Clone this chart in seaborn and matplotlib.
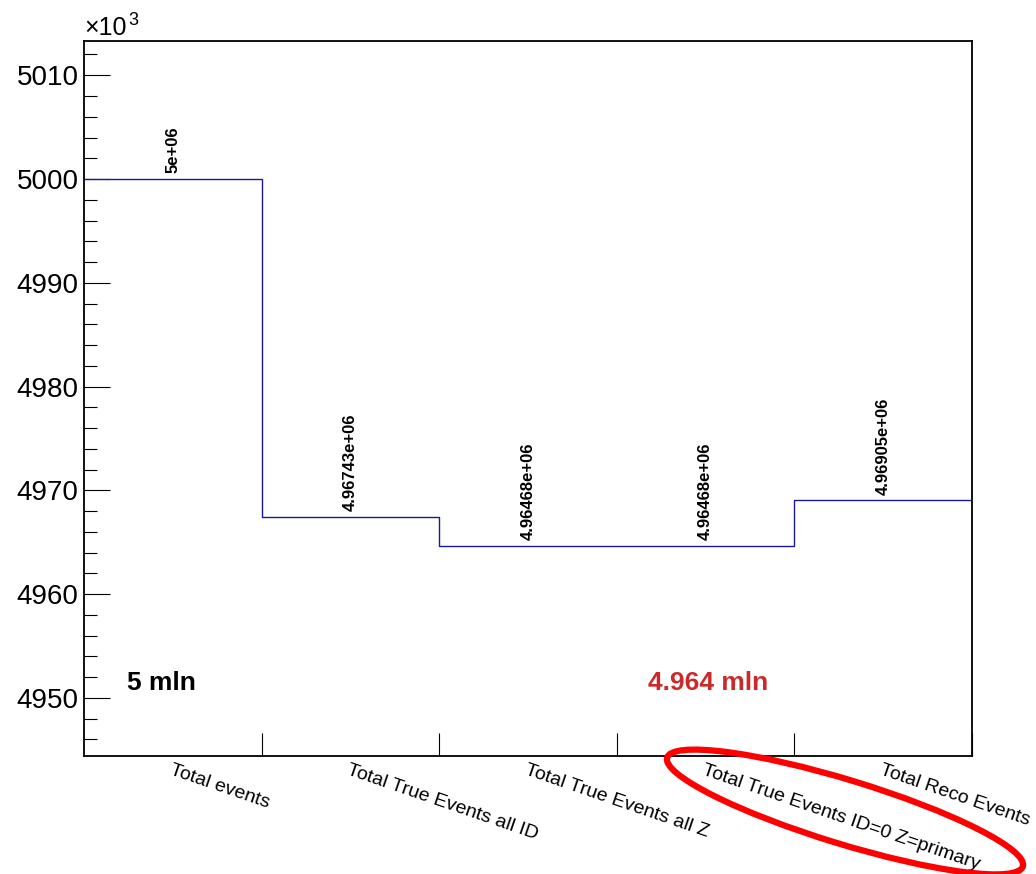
import numpy as np
import pandas as pd
import matplotlib
matplotlib.use("Agg")
import matplotlib.pyplot as plt
from matplotlib.patches import Ellipse
from matplotlib.ticker import MultipleLocator, FixedLocator
from matplotlib.transforms import IdentityTransform
import seaborn as sns

# ---- data ----
categories = ["Total events", "Total True Events all ID", "Total True Events all Z",
              "Total True Events ID=0 Z=primary", "Total Reco Events"]
counts = [5.0e6, 4.96743e6, 4.96468e6, 4.96468e6, 4.96905e6]
count_labels = ["5e+06", "4.96743e+06", "4.96468e+06", "4.96468e+06", "4.96905e+06"]
note_left = "5 mln"
note_right = "4.964 mln"

sns.set_theme(style="white")
plt.rcParams["font.family"] = ["Liberation Sans", "DejaVu Sans"]
plt.rcParams["text.color"] = "black"
plt.rcParams["axes.labelcolor"] = "black"
plt.rcParams["xtick.color"] = "black"
plt.rcParams["ytick.color"] = "black"

W, H, DPI = 1036, 874, 100
fig = plt.figure(figsize=(W / DPI, H / DPI), dpi=DPI)
ax = fig.add_axes([84 / W, 1 - 756 / H, (972 - 84) / W, (756 - 41) / H])

n = len(categories)
df = pd.DataFrame({"bin": np.arange(n) + 0.5,
                   "k": np.array(counts) / 1000.0})
sns.histplot(data=df, x="bin", weights="k", binwidth=1, binrange=(0, n),
             element="step", fill=False, color="#1a1a99", linewidth=1.0, ax=ax)

ax.set_xlim(0, n)
ax.set_ylim(4944.4, 5013.3)
ax.set_xlabel("")
ax.set_ylabel("")

for sp in ax.spines.values():
    sp.set_color("black")
    sp.set_linewidth(1.3)
    sp.set_visible(True)

# y axis ticks
ax.yaxis.set_major_locator(MultipleLocator(10))
ax.yaxis.set_minor_locator(MultipleLocator(2))
ax.tick_params(axis="y", which="major", direction="in", length=19, width=0.8,
               color="black", labelcolor="black", labelsize=20, pad=4,
               left=True, right=False)
ax.tick_params(axis="y", which="minor", direction="in", length=9.5, width=0.8,
               color="black", left=True, right=False)

# x axis: labels at bin centers, ticks at bin edges
centers = np.arange(n) + 0.5
ax.set_xticks(centers)
ax.set_xticklabels(categories, rotation=-19, ha="left", va="top",
                   rotation_mode="anchor", fontsize=14, color="black")
ax.tick_params(axis="x", which="major", length=0, pad=4, bottom=True, top=False,
               labelcolor="black")
ax.xaxis.set_minor_locator(FixedLocator(np.arange(1, n + 1)))
ax.tick_params(axis="x", which="minor", direction="in", length=16.5, width=0.8,
               color="black", bottom=True, top=False)

# value labels
for xc, v, lab in zip(centers, counts, count_labels):
    ax.annotate(lab, xy=(xc, v / 1000.0), xytext=(0, 4), textcoords="offset points",
                rotation=90, ha="center", va="bottom", fontsize=12,
                fontweight="bold", color="black")

# multiplier
ax.text(0.0, 1.0084, "\u00d710", transform=ax.transAxes,
        fontsize=18, ha="left", va="baseline", color="black")
ax.text(0.0495, 1.0224, "3", transform=ax.transAxes, fontsize=13,
        ha="left", va="baseline", color="black")

# notes
ax.text(0.242, 4950.8, note_left, fontsize=19, fontweight="bold",
        color="black", ha="left", va="baseline")
ax.text(3.176, 4950.8, note_right, fontsize=19, fontweight="bold",
        color="#cc2a2a", ha="left", va="baseline")

# red ellipse highlight (pixel coordinates)
ell = Ellipse((845, H - 812), width=372, height=64, angle=-17,
              transform=IdentityTransform(), fill=False, edgecolor="#ff0000",
              linewidth=4.5, clip_on=False)
fig.patches.append(ell)

fig.savefig("out.png", dpi=DPI)
